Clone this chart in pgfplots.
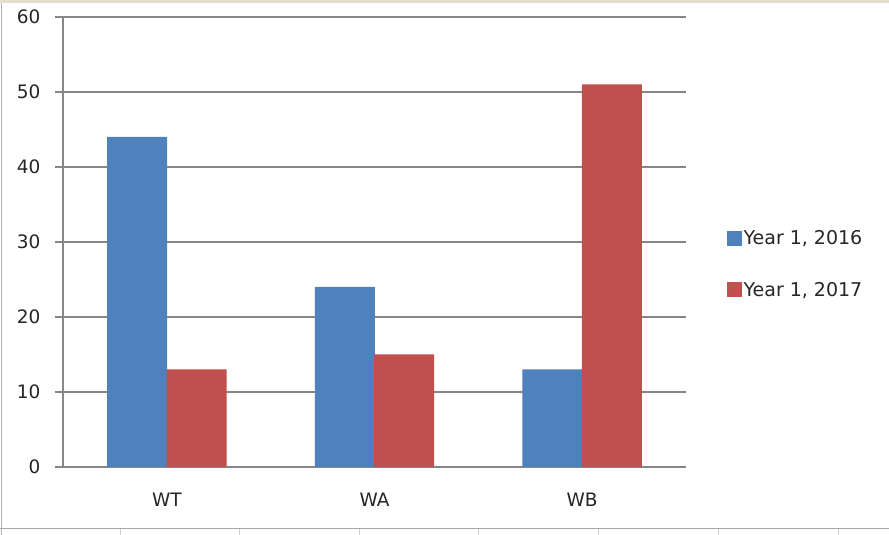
\documentclass[border=0pt]{standalone}
\usepackage{pgfplots}
\pgfplotsset{compat=1.18}
\usepackage{fontspec}
\setmainfont{DejaVu Sans}
\definecolor{xlblue}{HTML}{4F81BD}
\definecolor{xlred}{HTML}{C0504D}
\definecolor{xlgrid}{HTML}{868686}
\definecolor{band}{HTML}{E3DDD0}
\begin{document}
\begin{tikzpicture}[x=1bp,y=1bp]
\useasboundingbox (0,0) rectangle (889,535);
\fill[white] (0,0) rectangle (889,535);
\fill[band] (0,532) rectangle (889,535);
\draw[line width=1bp,black!30] (1.5,0) -- (1.5,532);
\draw[line width=1bp,black!35] (0,6) -- (889,6);
\foreach \xx in {120,239,359,478,598,718,838} \draw[line width=1bp,blue!10!black!20] (\xx,0) -- (\xx,6);
\begin{axis}[
  at={(63bp,68bp)}, anchor=south west,
  scale only axis, width=623bp, height=450bp,
  xmin=-0.5, xmax=2.5, ymin=0, ymax=60,
  axis x line*=bottom, axis y line*=left,
  axis line style={xlgrid, line width=1.2bp},
  ytick={0,10,...,60},
  ymajorgrids, grid style={xlgrid, line width=1.2bp},
  major tick length=8bp, tick align=outside,
  tick style={xlgrid, line width=1.2bp},
  xtick={0,1,2}, xticklabels={WT,WA,WB},
  xtick style={draw=none},
  extra x ticks={-0.5,0.5,1.5,2.5}, extra x tick labels={},
  extra x tick style={tick style={xlgrid, line width=1.2bp}, major tick length=8bp, grid=none},
  ticklabel style={font=\fontsize{18.5bp}{20bp}\selectfont, text=black!85},
  /pgf/number format/assume math mode=true,
  yticklabel style={xshift=-11bp},
  xticklabel style={yshift=-14bp},
  ybar, bar width=0.289,
  legend style={draw=none, fill=none, at={(1.06,0.451)}, anchor=west,
    font=\fontsize{19bp}{21bp}\selectfont, row sep=32bp, text=black!85},
  legend cell align=left,
  legend image code/.code={\fill[#1] (0bp,-7.5bp) rectangle (15bp,7.5bp);},
]
\addplot[fill=xlblue, draw=none, bar shift=-0.143] coordinates {(0,44) (1,24) (2,13)};
\addplot[fill=xlred, draw=none, bar shift=0.143] coordinates {(0,13) (1,15) (2,51)};
\legend{{Year 1, 2016},{Year 1, 2017}}
\end{axis}
\end{tikzpicture}
\end{document}
